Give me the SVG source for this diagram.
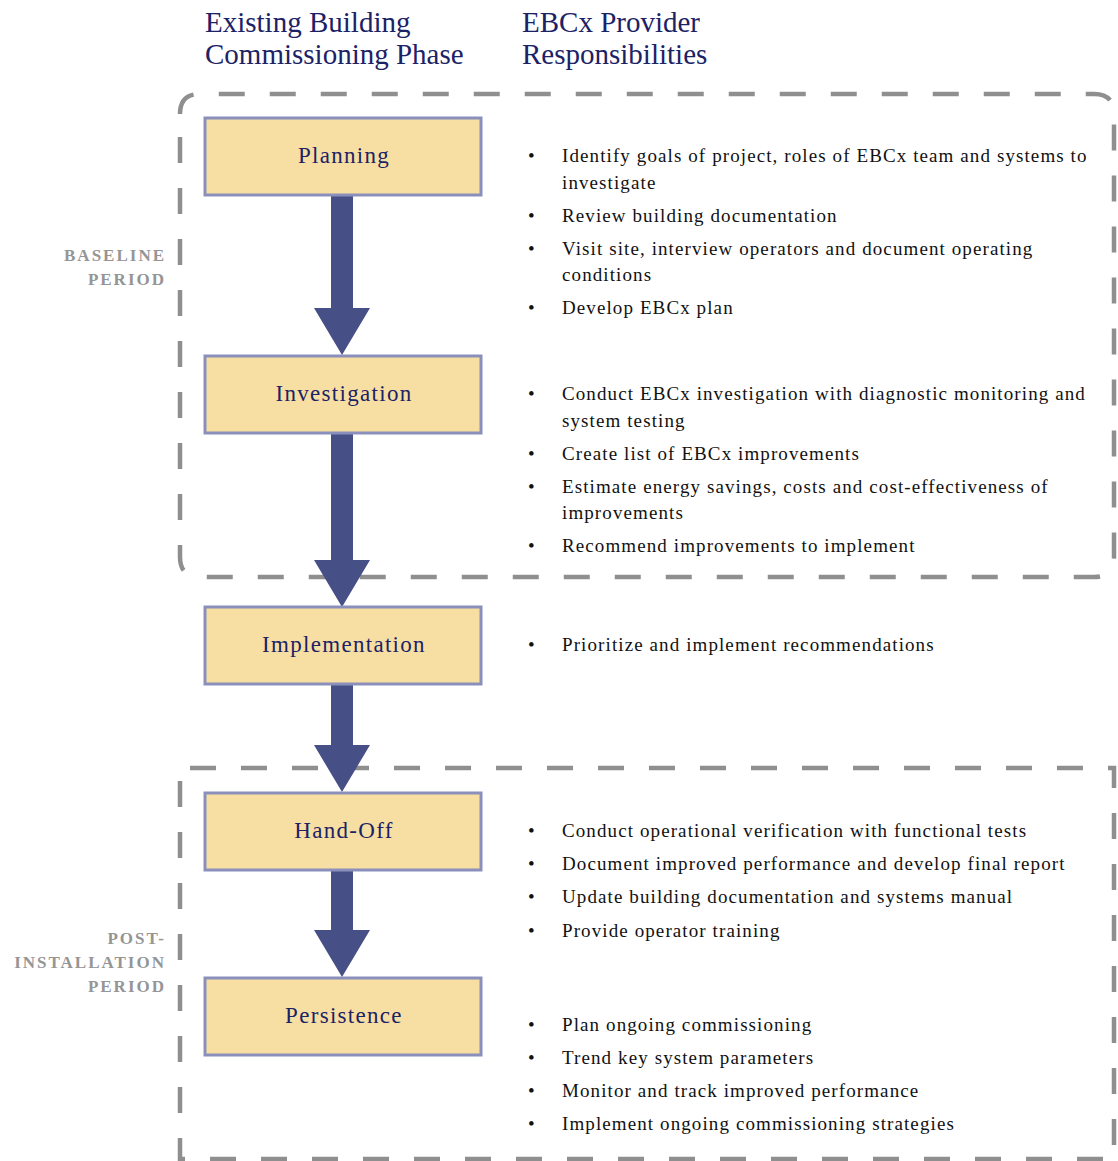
<svg xmlns="http://www.w3.org/2000/svg" width="1118" height="1161" viewBox="0 0 1118 1161">
<style>
.hdr{font-family:"Liberation Serif","DejaVu Serif",serif;font-size:29px;fill:#1c2266}
.side{font-family:"Liberation Serif","DejaVu Serif",serif;font-size:17px;font-weight:bold;fill:#959595;text-anchor:end;letter-spacing:2px}
.box{fill:#f7dfa3;stroke:#8a8fbb;stroke-width:3}
.lbl{font-family:"Liberation Serif","DejaVu Serif",serif;font-size:23px;fill:#1c2266;text-anchor:middle;letter-spacing:1.3px}
.txt{font-family:"Liberation Serif","DejaVu Serif",serif;font-size:19px;fill:#111;letter-spacing:1.1px}
.dash{fill:none;stroke:#8f8f8f;stroke-width:4.5;stroke-dasharray:26 25}
.arr{fill:#474f87}
</style>
<rect width="1118" height="1161" fill="#fff"/>
<g id="headers">
<text class="hdr" x="205" y="32">Existing Building</text>
<text class="hdr" x="205" y="64">Commissioning Phase</text>
<text class="hdr" x="522" y="32">EBCx Provider</text>
<text class="hdr" x="522" y="64">Responsibilities</text>
</g>
<g id="periods">
<path class="dash" d="M180 114 Q180 94 200 94 L1094 94 Q1114 94 1114 114 L1114 557 Q1114 577 1094 577 L200 577 Q180 577 180 557 Z"/>
<path class="dash" d="M190 768 L1114 768 L1114 1159 L180 1159 L180 768 Z"/>
<text class="side" x="166" y="261">BASELINE</text>
<text class="side" x="166" y="285">PERIOD</text>
<text class="side" x="166" y="944">POST-</text>
<text class="side" x="166" y="968">INSTALLATION</text>
<text class="side" x="166" y="992">PERIOD</text>
</g>
<g id="connectors">
<path class="arr" d="M331 195 L353 195 L353 308 L370 308 L342 355 L314 308 L331 308 Z"/>
<path class="arr" d="M331 433 L353 433 L353 560 L370 560 L342 607 L314 560 L331 560 Z"/>
<path class="arr" d="M331 684 L353 684 L353 745 L370 745 L342 792 L314 745 L331 745 Z"/>
<path class="arr" d="M331 870 L353 870 L353 930 L370 930 L342 977 L314 930 L331 930 Z"/>
</g>
<g id="planning"><rect class="box" x="205" y="118" width="276" height="77"/><text class="lbl" x="344" y="163">Planning</text></g>
<g id="investigation"><rect class="box" x="205" y="356" width="276" height="77"/><text class="lbl" x="344" y="401">Investigation</text></g>
<g id="implementation"><rect class="box" x="205" y="607" width="276" height="77"/><text class="lbl" x="344" y="652">Implementation</text></g>
<g id="handoff"><rect class="box" x="205" y="793" width="276" height="77"/><text class="lbl" x="344" y="838">Hand-Off</text></g>
<g id="persistence"><rect class="box" x="205" y="978" width="276" height="77"/><text class="lbl" x="344" y="1023">Persistence</text></g>
<g id="responsibilities">
<text class="txt" x="528" y="162">•</text><text class="txt" x="562" y="162">Identify goals of project, roles of EBCx team and systems to</text>
<text class="txt" x="562" y="189">investigate</text>
<text class="txt" x="528" y="222">•</text><text class="txt" x="562" y="222">Review building documentation</text>
<text class="txt" x="528" y="255">•</text><text class="txt" x="562" y="255">Visit site, interview operators and document operating</text>
<text class="txt" x="562" y="281">conditions</text>
<text class="txt" x="528" y="314">•</text><text class="txt" x="562" y="314">Develop EBCx plan</text>
<text class="txt" x="528" y="400">•</text><text class="txt" x="562" y="400">Conduct EBCx investigation with diagnostic monitoring and</text>
<text class="txt" x="562" y="427">system testing</text>
<text class="txt" x="528" y="460">•</text><text class="txt" x="562" y="460">Create list of EBCx improvements</text>
<text class="txt" x="528" y="493">•</text><text class="txt" x="562" y="493">Estimate energy savings, costs and cost-effectiveness of</text>
<text class="txt" x="562" y="519">improvements</text>
<text class="txt" x="528" y="552">•</text><text class="txt" x="562" y="552">Recommend improvements to implement</text>
<text class="txt" x="528" y="651">•</text><text class="txt" x="562" y="651">Prioritize and implement recommendations</text>
<text class="txt" x="528" y="837">•</text><text class="txt" x="562" y="837">Conduct operational verification with functional tests</text>
<text class="txt" x="528" y="870">•</text><text class="txt" x="562" y="870">Document improved performance and develop final report</text>
<text class="txt" x="528" y="903">•</text><text class="txt" x="562" y="903">Update building documentation and systems manual</text>
<text class="txt" x="528" y="937">•</text><text class="txt" x="562" y="937">Provide operator training</text>
<text class="txt" x="528" y="1031">•</text><text class="txt" x="562" y="1031">Plan ongoing commissioning</text>
<text class="txt" x="528" y="1064">•</text><text class="txt" x="562" y="1064">Trend key system parameters</text>
<text class="txt" x="528" y="1097">•</text><text class="txt" x="562" y="1097">Monitor and track improved performance</text>
<text class="txt" x="528" y="1130">•</text><text class="txt" x="562" y="1130">Implement ongoing commissioning strategies</text>
</g>
</svg>
